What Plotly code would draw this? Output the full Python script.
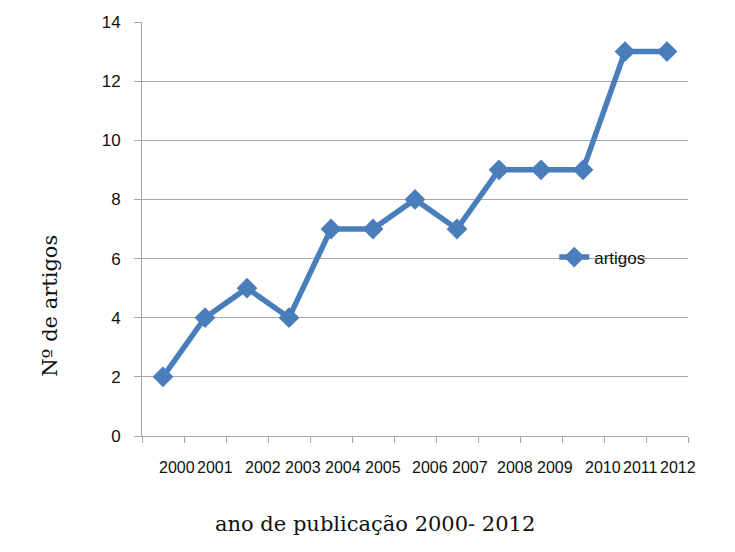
import plotly.graph_objects as go

# Articles published per year
years = ["2000", "2001", "2002", "2003", "2004", "2005", "2006",
         "2007", "2008", "2009", "2010", "2011", "2012"]
artigos = [2, 4, 5, 4, 7, 7, 8, 7, 9, 9, 9, 13, 13]
y_ticks = [0, 2, 4, 6, 8, 10, 12, 14]

# Each year occupies one unit slot on a linear axis; points sit at slot centres
slot_centres = [i + 0.5 for i in range(len(years))]
# Year labels sit somewhat to the right of their slot, packed unevenly
label_pos = [0.83, 1.73, 2.88, 3.83, 4.79, 5.73, 6.86, 7.8, 8.89, 9.83,
             10.98, 11.86, 12.75]

blue = "#4A7EBB"
grid = "#A6A6A6"
ink = "#111111"

fig = go.Figure()
fig.add_trace(go.Scatter(
    x=slot_centres, y=artigos, mode="lines+markers", name="artigos",
    line=dict(color=blue, width=5.5),
    marker=dict(symbol="diamond", size=16, color=blue),
))

annotations = [
    dict(x=p, y=-0.05, xref="x", yref="paper", text=t, showarrow=False,
         xanchor="center", yanchor="top",
         font=dict(family="Liberation Sans", size=16, color=ink))
    for p, t in zip(label_pos, years)
]
annotations.append(dict(
    x=0.427, y=-0.213, xref="paper", yref="paper", xanchor="center",
    yanchor="middle", showarrow=False, text="ano de publicação 2000- 2012",
    font=dict(family="DejaVu Serif", size=21, color=ink)))
# y-axis title, placed a little below the plot's mid-height
annotations.append(dict(
    x=-0.17, y=0.315, xref="paper", yref="paper", xanchor="center",
    yanchor="middle", showarrow=False, text="Nº de artigos", textangle=-90,
    font=dict(family="DejaVu Serif", size=21, color=ink)))

fig.update_layout(
    width=735, height=552,
    margin=dict(l=142, r=47, t=22, b=116),
    paper_bgcolor="white", plot_bgcolor="white",
    showlegend=True,
    legend=dict(x=0.755, y=0.431, xanchor="left", yanchor="middle",
                bgcolor="rgba(0,0,0,0)", itemwidth=30,
                font=dict(family="Liberation Sans", size=17, color=ink)),
    annotations=annotations,
    xaxis=dict(
        range=[0, len(years)], tickvals=list(range(len(years) + 1)),
        showticklabels=False, ticks="outside", ticklen=6, tickcolor=grid,
        showline=True, linecolor=grid, linewidth=1, showgrid=False,
        zeroline=False, fixedrange=True,
    ),
    yaxis=dict(
        range=[0, 14], tickvals=y_ticks, ticks="outside", ticklen=7,
        tickcolor=grid, showline=True, linecolor=grid, linewidth=1,
        showgrid=True, gridcolor=grid, gridwidth=1, zeroline=False,
        tickfont=dict(family="Liberation Sans", size=17, color=ink),
        ticklabelstandoff=10,
    ),
)

fig.write_html("out.html")
